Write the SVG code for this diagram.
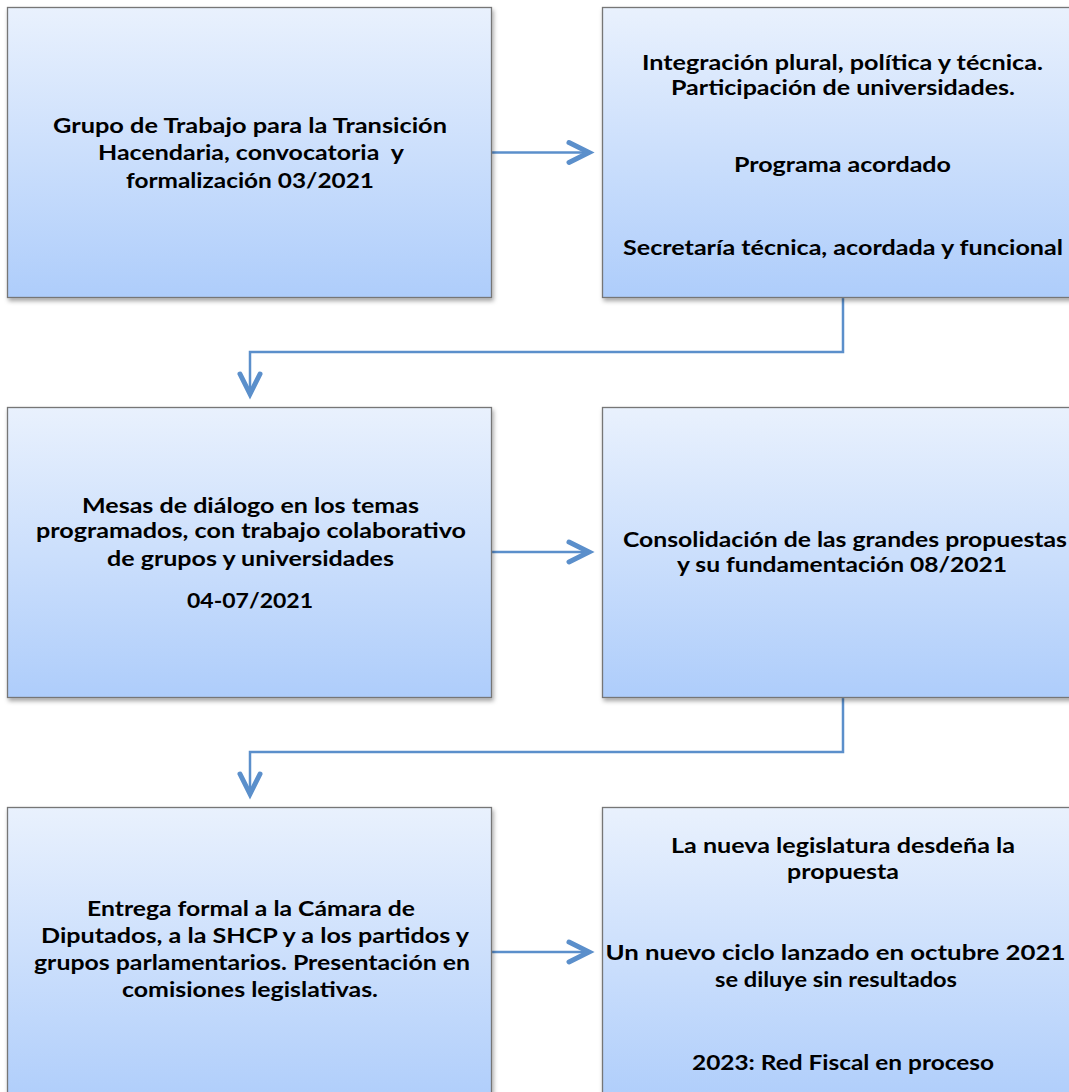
<svg xmlns="http://www.w3.org/2000/svg" width="1069" height="1092" viewBox="0 0 1069 1092">
<defs>
<linearGradient id="fill" x1="0" y1="0" x2="0" y2="1">
<stop offset="0" stop-color="#e9f1fd"/>
<stop offset="1" stop-color="#aecdfb"/>
</linearGradient>
<filter id="shadow" x="-5%" y="-5%" width="112%" height="115%">
<feDropShadow dx="1.5" dy="3" stdDeviation="2" flood-color="#000" flood-opacity="0.35"/>
</filter>
<marker id="chev" markerUnits="userSpaceOnUse" markerWidth="34" markerHeight="30" viewBox="-26 -15 34 30" refX="0" refY="0" orient="auto">
<path d="M-20,-10 L0,0 L-20,10" fill="none" stroke="#5b8fcb" stroke-width="5" stroke-linecap="round" stroke-linejoin="miter"/>
</marker>
</defs>
<style>
.box{fill:url(#fill);stroke:#767676;stroke-width:1.3;filter:url(#shadow)}
.t{font-family:"Lato","Open Sans","Liberation Sans",sans-serif;font-weight:bold;font-size:21px;fill:#000;text-anchor:middle;white-space:pre}
.c{fill:none;stroke:#5b8fcb;stroke-width:2.5;marker-end:url(#chev)}
</style>
<rect width="1069" height="1092" fill="#fff"/>
<g id="connectors">
<path class="c" d="M492,152.5 H589"/>
<path class="c" d="M843,297 V352 H250 V394"/>
<path class="c" d="M492,552 H589"/>
<path class="c" d="M843,697 V752 H250 V794"/>
<path class="c" d="M492,952 H589"/>
</g>
<g id="n1">
<rect class="box" x="7.5" y="7.5" width="484" height="290"/>
<text class="t" x="250" y="133" textLength="394" lengthAdjust="spacingAndGlyphs">Grupo de Trabajo para la Transición</text>
<text class="t" x="251" y="160" textLength="306" lengthAdjust="spacingAndGlyphs">Hacendaria, convocatoria  y</text>
<text class="t" x="250" y="188" textLength="248" lengthAdjust="spacingAndGlyphs">formalización 03/2021</text>
</g>
<g id="n2">
<rect class="box" x="602.5" y="7.5" width="484" height="290"/>
<text class="t" x="842.5" y="70" textLength="401" lengthAdjust="spacingAndGlyphs">Integración plural, política y técnica.</text>
<text class="t" x="843" y="95" textLength="344" lengthAdjust="spacingAndGlyphs">Participación de universidades.</text>
<text class="t" x="842.5" y="172" textLength="217" lengthAdjust="spacingAndGlyphs">Programa acordado</text>
<text class="t" x="843" y="255" textLength="440" lengthAdjust="spacingAndGlyphs">Secretaría técnica, acordada y funcional</text>
</g>
<g id="n3">
<rect class="box" x="7.5" y="407.5" width="484" height="290"/>
<text class="t" x="250.5" y="513" textLength="337" lengthAdjust="spacingAndGlyphs">Mesas de diálogo en los temas</text>
<text class="t" x="251" y="538" textLength="430" lengthAdjust="spacingAndGlyphs">programados, con trabajo colaborativo</text>
<text class="t" x="250.5" y="566" textLength="287" lengthAdjust="spacingAndGlyphs">de grupos y universidades</text>
<text class="t" x="250" y="608" textLength="126" lengthAdjust="spacingAndGlyphs">04-07/2021</text>
</g>
<g id="n4">
<rect class="box" x="602.5" y="407.5" width="484" height="290"/>
<text class="t" x="845" y="547" textLength="444" lengthAdjust="spacingAndGlyphs">Consolidación de las grandes propuestas</text>
<text class="t" x="842" y="572" textLength="330" lengthAdjust="spacingAndGlyphs">y su fundamentación 08/2021</text>
</g>
<g id="n5">
<rect class="box" x="7.5" y="807.5" width="484" height="300"/>
<text class="t" x="251" y="916" textLength="328" lengthAdjust="spacingAndGlyphs">Entrega formal a la Cámara de</text>
<text class="t" x="255" y="943" textLength="428" lengthAdjust="spacingAndGlyphs">Diputados, a la SHCP y a los partidos y</text>
<text class="t" x="252" y="970" textLength="436" lengthAdjust="spacingAndGlyphs">grupos parlamentarios. Presentación en</text>
<text class="t" x="250" y="997" textLength="256" lengthAdjust="spacingAndGlyphs">comisiones legislativas.</text>
</g>
<g id="n6">
<rect class="box" x="602.5" y="807.5" width="484" height="300"/>
<text class="t" x="843" y="853" textLength="344" lengthAdjust="spacingAndGlyphs">La nueva legislatura desdeña la</text>
<text class="t" x="843" y="879" textLength="112" lengthAdjust="spacingAndGlyphs">propuesta</text>
<text class="t" x="835.5" y="960" textLength="460" lengthAdjust="spacingAndGlyphs">Un nuevo ciclo lanzado en octubre 2021</text>
<text class="t" x="836" y="987" textLength="242" lengthAdjust="spacingAndGlyphs">se diluye sin resultados</text>
<text class="t" x="843" y="1070" textLength="302" lengthAdjust="spacingAndGlyphs">2023: Red Fiscal en proceso</text>
</g>
</svg>
